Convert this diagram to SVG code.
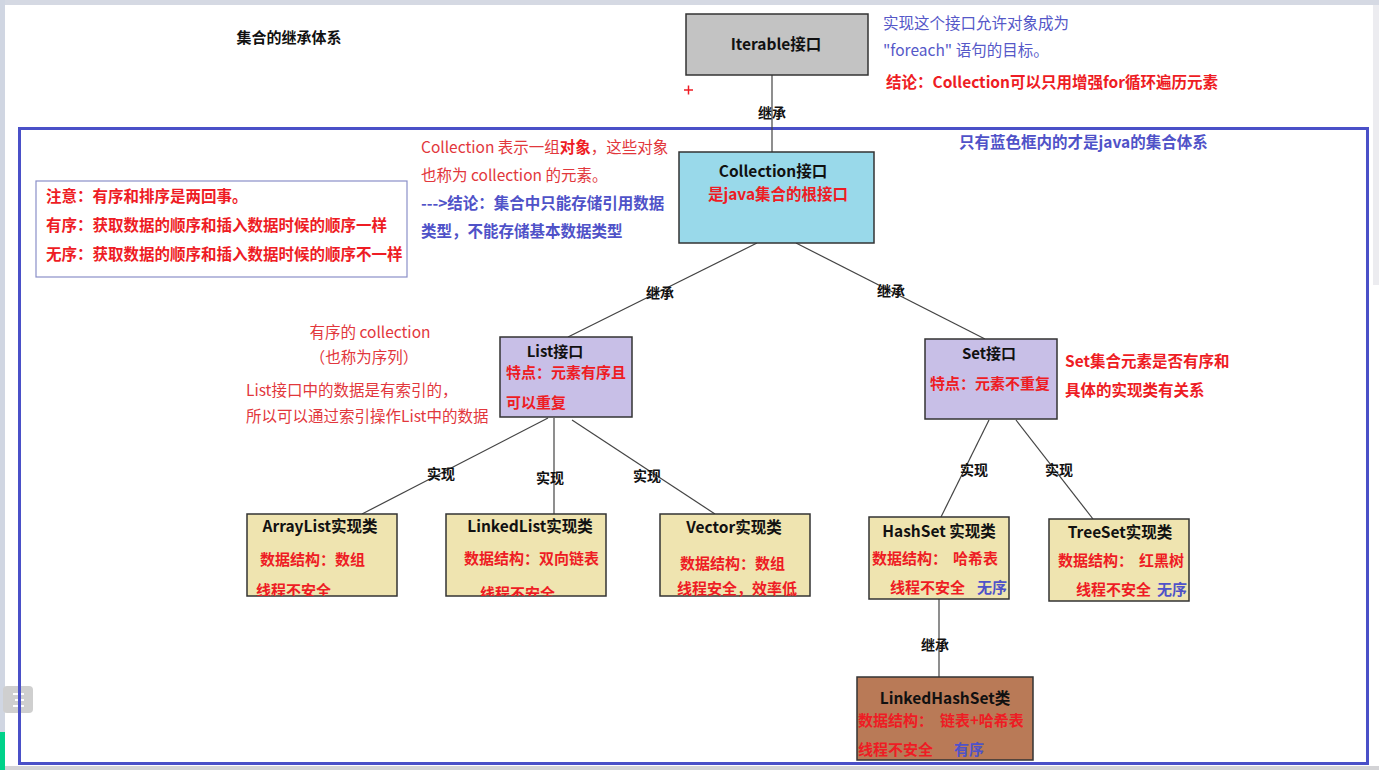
<svg xmlns="http://www.w3.org/2000/svg" width="1379" height="770" viewBox="0 0 1379 770">
<style>
  text { font-family: "Noto Sans CJK SC", "Noto Sans", sans-serif; font-size: 15px; }
  .b { font-weight: bold; }
  .k { fill: #111; }
  .r { fill: #ee1c24; font-weight: bold; }
  .rn { fill: #e2373c; font-size: 15.5px; }
  .bl { fill: #4f52c8; font-weight: bold; }
  .bln { fill: #5558c8; font-size: 15.5px; }
  .m { text-anchor: middle; }
  .lbl { font-size: 14px; font-weight: bold; fill: #111; text-anchor: middle; }
  .node { stroke: #333; stroke-width: 1.5; }
  .conn line { stroke: #444; stroke-width: 1.2; }
  .w { font-size: 15.5px; }
</style>
<defs>
  <clipPath id="cA"><rect x="247" y="514" width="150" height="82"/></clipPath>
  <clipPath id="cL"><rect x="446" y="514" width="160" height="82"/></clipPath>
</defs>
<rect x="0" y="0" width="1379" height="770" fill="#ffffff"/>
<rect x="0" y="0" width="1379" height="5" fill="#d5d9e3"/>
<rect x="0" y="0" width="5" height="770" fill="#d0d6e2"/>
<rect x="0" y="766" width="1379" height="4" fill="#d3d3d6"/>
<rect x="1373" y="5" width="6" height="280" fill="#ececf0"/>
<rect x="0" y="732" width="5" height="38" fill="#00d28a"/>
<g id="menu-icon">
  <rect x="3" y="686" width="30" height="27" rx="4" fill="#cfcfcf"/>
  <line x1="13" y1="694" x2="24" y2="694" stroke="#fff" stroke-width="2"/>
  <line x1="15" y1="700" x2="24" y2="700" stroke="#fff" stroke-width="2"/>
  <line x1="13" y1="706" x2="24" y2="706" stroke="#fff" stroke-width="2"/>
</g>

<text class="b k m" x="289" y="43">集合的继承体系</text>

<rect id="frame" x="19.5" y="128.5" width="1348" height="635" fill="none" stroke="#4a50c8" stroke-width="3"/>

<g class="conn" id="connectors">
  <line x1="772" y1="75" x2="772" y2="152"/>
  <line x1="757" y1="243" x2="568" y2="337"/>
  <line x1="796" y1="243" x2="985" y2="339"/>
  <line x1="548" y1="418" x2="362" y2="514"/>
  <line x1="554" y1="418" x2="554" y2="514"/>
  <line x1="572" y1="420" x2="715" y2="514"/>
  <line x1="989" y1="420" x2="941" y2="517"/>
  <line x1="1016" y1="420" x2="1093" y2="519"/>
  <line x1="939" y1="599" x2="939" y2="677"/>
  <text class="lbl" x="772" y="118">继承</text>
  <text class="lbl" x="660" y="298">继承</text>
  <text class="lbl" x="891" y="296">继承</text>
  <text class="lbl" x="441" y="479">实现</text>
  <text class="lbl" x="550" y="483">实现</text>
  <text class="lbl" x="647" y="481">实现</text>
  <text class="lbl" x="974" y="475">实现</text>
  <text class="lbl" x="1059" y="475">实现</text>
  <text class="lbl" x="935" y="650">继承</text>
</g>

<g id="plus-mark" stroke="#ee1c24" stroke-width="1.5">
  <line x1="684" y1="90" x2="693" y2="90"/>
  <line x1="688.5" y1="85.5" x2="688.5" y2="94.5"/>
</g>

<g id="iterable">
  <rect class="node" x="686" y="14" width="182" height="61" fill="#c3c3c3"/>
  <text class="b k m" x="776" y="50" style="font-size:15.5px">Iterable接口</text>
</g>
<g id="iterable-note">
  <text class="bln" x="883" y="29">实现这个接口允许对象成为</text>
  <text class="bln" x="883" y="56">"foreach" 语句的目标。</text>
  <text class="r w" x="886" y="88">结论：Collection可以只用增强for循环遍历元素</text>
</g>

<text class="bl w" x="959" y="148">只有蓝色框内的才是java的集合体系</text>

<g id="collection">
  <rect class="node" x="679" y="152" width="195" height="91" fill="#99d9ea"/>
  <text class="b k m w" x="773" y="177">Collection接口</text>
  <text class="r m w" x="778" y="200">是java集合的根接口</text>
</g>
<g id="collection-note">
  <text class="rn" x="421" y="153">Collection 表示一组<tspan class="r">对象</tspan>，这些对象</text>
  <text class="rn" x="421" y="181">也称为 collection 的元素。</text>
  <text class="bl w" x="421" y="209">---&gt;结论：集合中只能存储引用数据</text>
  <text class="bl w" x="421" y="237">类型，不能存储基本数据类型</text>
</g>

<g id="note-box">
  <rect x="36" y="181" width="371" height="96" fill="#fff" stroke="#8a8fc8" stroke-width="1.2"/>
  <text class="r w" x="46" y="202">注意：有序和排序是两回事。</text>
  <text class="r w" x="46" y="231">有序：获取数据的顺序和插入数据时候的顺序一样</text>
  <text class="r w" x="46" y="260">无序：获取数据的顺序和插入数据时候的顺序不一样</text>
</g>

<g id="list">
  <rect class="node" x="500" y="337" width="132" height="80" fill="#c8bfe7"/>
  <text class="b k m" x="555" y="357">List接口</text>
  <text class="r" x="506" y="378">特点：元素有序且</text>
  <text class="r" x="506" y="408">可以重复</text>
</g>
<g id="list-note">
  <text class="rn m" x="370" y="338">有序的 collection</text>
  <text class="rn m" x="364" y="363">（也称为序列）</text>
  <text class="rn" x="246" y="396">List接口中的数据是有索引的，</text>
  <text class="rn" x="246" y="422">所以可以通过索引操作List中的数据</text>
</g>

<g id="set">
  <rect class="node" x="925" y="339" width="132" height="80" fill="#c8bfe7"/>
  <text class="b k m" x="989" y="359">Set接口</text>
  <text class="r" x="930" y="389">特点：元素不重复</text>
</g>
<g id="set-note">
  <text class="r w" x="1065" y="367">Set集合元素是否有序和</text>
  <text class="r w" x="1065" y="396">具体的实现类有关系</text>
</g>

<g id="arraylist">
  <rect class="node" x="247" y="514" width="150" height="82" fill="#efe4b0"/>
  <text class="b k m w" x="320" y="532">ArrayList实现类</text>
  <text class="r" x="260" y="565">数据结构：数组</text>
  <text class="r" x="256" y="596" clip-path="url(#cA)">线程不安全</text>
</g>
<g id="linkedlist">
  <rect class="node" x="446" y="514" width="160" height="82" fill="#efe4b0"/>
  <text class="b k m w" x="530" y="532">LinkedList实现类</text>
  <text class="r" x="464" y="564">数据结构：双向链表</text>
  <text class="r" x="480" y="599" clip-path="url(#cL)">线程不安全</text>
</g>
<g id="vector">
  <rect class="node" x="660" y="514" width="150" height="82" fill="#efe4b0"/>
  <text class="b k m w" x="734" y="533">Vector实现类</text>
  <text class="r" x="680" y="569">数据结构：数组</text>
  <text class="r" x="677" y="594">线程安全，效率低</text>
</g>
<g id="hashset">
  <rect class="node" x="869" y="517" width="140" height="82" fill="#efe4b0"/>
  <text class="b k m w" x="939" y="537">HashSet 实现类</text>
  <text class="r" x="872" y="564">数据结构：<tspan x="953">哈希表</tspan></text>
  <text class="r" x="890" y="593">线程不安全</text>
  <text class="bl" x="977" y="593">无序</text>
</g>
<g id="treeset">
  <rect class="node" x="1049" y="519" width="140" height="82" fill="#efe4b0"/>
  <text class="b k m w" x="1120" y="538">TreeSet实现类</text>
  <text class="r" x="1058" y="566">数据结构：<tspan x="1139">红黑树</tspan></text>
  <text class="r" x="1076" y="595">线程不安全</text>
  <text class="bl" x="1157" y="595">无序</text>
</g>
<g id="linkedhashset">
  <rect class="node" x="857" y="677" width="176" height="83" fill="#b97a57"/>
  <text class="b k m w" x="945" y="704">LinkedHashSet类</text>
  <text class="r" x="858" y="726">数据结构：<tspan x="940">链表+哈希表</tspan></text>
  <text class="r" x="858" y="755">线程不安全</text>
  <text class="bl" x="954" y="755">有序</text>
</g>
</svg>
